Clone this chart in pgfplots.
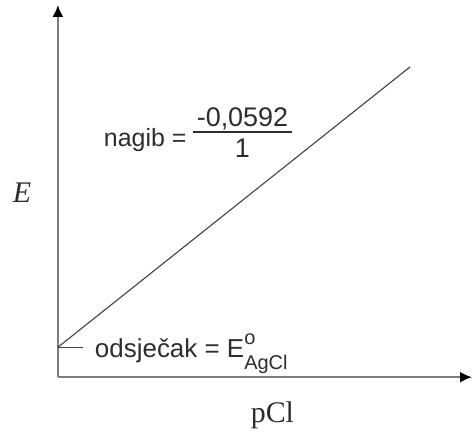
\documentclass[border=0pt]{standalone}
\usepackage{pgfplots}
\pgfplotsset{compat=1.18}
\usetikzlibrary{arrows.meta}
\usepackage{fontspec}
\setmainfont{Liberation Sans}
\newfontfamily\seriffont{Liberation Serif}
\definecolor{axgray}{RGB}{125,125,125}
\definecolor{lngray}{RGB}{65,65,65}
\definecolor{txt}{RGB}{45,45,45}
\begin{document}
\begin{tikzpicture}
\begin{axis}[
  scale only axis,
  width=415pt, height=373pt,
  xmin=0, xmax=415, ymin=0, ymax=373,
  axis lines=left,
  axis line style={draw=axgray, line width=2pt, -{Latex[length=12pt,width=11pt,color=black]}},
  ticks=none,
  clip=false,
]
% line E vs pCl (pixel-relative units)
\addplot[lngray, line width=1.1pt, no marks] coordinates {(0,30) (353,311)};
% intercept marker dash
\addplot[lngray, line width=1.4pt, no marks] coordinates {(0,30) (25,30)};
% bounding box
\path (axis cs:-58,-52) rectangle (axis cs:415,378);
% labels
\node[anchor=base, font=\seriffont\itshape\fontsize{30}{32}\selectfont, text=txt] at (axis cs:-36,175) {E};
\node[anchor=base, font=\seriffont\fontsize{30}{32}\selectfont, text=txt] at (axis cs:215,-45) {pCl};
\node[anchor=base west, inner sep=0pt, font=\fontsize{25}{27}\selectfont, text=txt] at (axis cs:46,231) {nagib =};
\node[anchor=base, inner sep=0pt, font=\fontsize{27}{29}\selectfont, text=txt] at (axis cs:185,251) {-0,0592};
\node[anchor=base, inner sep=0pt, font=\fontsize{27}{29}\selectfont, text=txt] at (axis cs:185,220) {1};
\draw[txt, line width=1.8pt] (axis cs:135,246) -- (axis cs:235,246);
\node[anchor=base west, inner sep=0pt, font=\fontsize{26}{28}\selectfont, text=txt] at (axis cs:37,20)
  {odsječak = E\rlap{\raisebox{13pt}{\fontsize{20}{20}\selectfont o}}\raisebox{-12pt}{\fontsize{20}{20}\selectfont AgCl}};
\end{axis}
\end{tikzpicture}
\end{document}
